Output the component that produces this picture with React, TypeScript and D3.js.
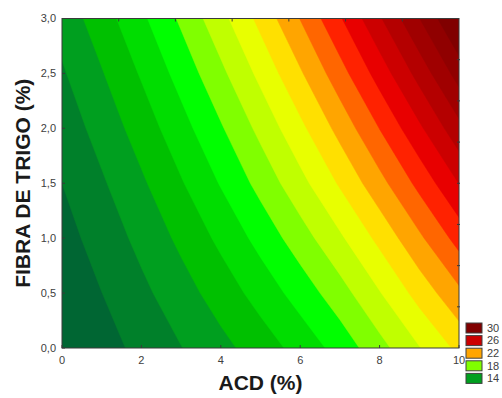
import React from "react";
import * as d3 from "d3";

// Grid of the response surface: x = ACD (%), y = FIBRA DE TRIGO (%)
const xValues = [0, 1, 2, 3, 4, 5, 6, 7, 8, 9, 10];
const yValues = [0, 0.5, 1, 1.5, 2, 2.5, 3];
const zAtY00 = [11.45, 12.1, 12.77, 13.47, 14.2, 14.98, 15.86, 16.88, 18.15, 19.45, 20.75];
const zAtY05 = [11.79, 12.49, 13.26, 14.08, 14.95, 15.89, 16.92, 18.08, 19.44, 20.88, 22.28];
const zAtY10 = [12.12, 12.91, 13.78, 14.72, 15.73, 16.83, 18.03, 19.33, 20.77, 22.31, 23.88];
const zAtY15 = [12.5, 13.37, 14.34, 15.41, 16.57, 17.82, 19.17, 20.62, 22.16, 23.79, 25.52];
const zAtY20 = [12.92, 13.88, 14.95, 16.12, 17.39, 18.77, 20.25, 21.83, 23.52, 25.31, 27.2];
const zAtY25 = [13.38, 14.43, 15.6, 16.87, 18.26, 19.76, 21.37, 23.09, 24.93, 26.87, 28.93];
const zAtY30 = [13.89, 15.03, 16.29, 17.67, 19.17, 20.79, 22.53, 24.39, 26.38, 28.48, 30.7];
const zRows = [zAtY00, zAtY05, zAtY10, zAtY15, zAtY20, zAtY25, zAtY30];

// Contour bands (centre value of each band) and their colours
const bandLevels = [12, 13, 14, 15, 16, 17, 18, 19, 20, 21, 22, 23, 24, 25, 26, 27, 28, 29, 30];
const bandColors = [
  "#006633", "#00802a", "#009f1f", "#00c000", "#00dd00", "#00ff00", "#80ff00",
  "#c0ff00", "#e8ff00", "#ffe000", "#ffa500", "#ff6600", "#ff2200", "#e80000",
  "#cc0000", "#b40000", "#a00000", "#900000", "#800000",
];

const legendLevels = [30, 26, 22, 18, 14];
const xTicks = [0, 2, 4, 6, 8, 10];
const xTickLabels = ["0", "2", "4", "6", "8", "10"];
const yTicks = [0, 0.5, 1, 1.5, 2, 2.5, 3];
const yTickLabels = ["0,0", "0,5", "1,0", "1,5", "2,0", "2,5", "3,0"];

const W = 502;
const H = 398;
const left = 62;
const right = 459;
const top = 18.5;
const bottom = 348;
const FONT = "Arial, 'Liberation Sans', sans-serif";

export default function App() {
  const xScale = d3.scaleLinear().domain([0, 10]).range([left, right]);
  const yScale = d3.scaleLinear().domain([0, 3]).range([bottom, top]);

  const nx = xValues.length;
  const ny = yValues.length;
  const gridX = d3.scaleLinear().domain([0.5, nx - 0.5]).range([xValues[0], xValues[nx - 1]]);
  const gridY = d3.scaleLinear().domain([0.5, ny - 0.5]).range([yValues[0], yValues[ny - 1]]);

  const values: number[] = [];
  zRows.forEach((row) => row.forEach((v) => values.push(v)));

  const thresholds = bandLevels.slice(1).map((v) => v - 0.5);
  const contours = d3.contours().size([nx, ny]).thresholds(thresholds)(values);

  const projection = d3.geoTransform({
    point: function (x: number, y: number) {
      (this as any).stream.point(xScale(gridX(x)), yScale(gridY(y)));
    },
  });
  const path = d3.geoPath(projection as any);

  const colorOf = (level: number) => bandColors[bandLevels.indexOf(level)];

  const topTicks = d3.scaleLinear().domain([0, 7]).range([left, right]);
  const rightTicks = d3.scaleLinear().domain([0, 8]).range([top, bottom]);

  const legX = 466;
  const legY0 = 323;
  const legStep = 12.6;

  return (
    <svg width={W} height={H} style={{ position: "absolute", left: 0, top: 0, background: "#fff" }}>
      <defs>
        <clipPath id="plotClip">
          <rect x={left} y={top} width={right - left} height={bottom - top} />
        </clipPath>
      </defs>
      <g clipPath="url(#plotClip)">
        <rect x={left} y={top} width={right - left} height={bottom - top} fill={bandColors[0]} />
        {contours.map((c, i) => (
          <path key={i} d={path(c as any) || ""} fill={bandColors[i + 1]} stroke={bandColors[i + 1]} strokeWidth={0.5} />
        ))}
      </g>
      <rect x={left} y={top} width={right - left} height={bottom - top} fill="none" stroke="#3a3a3a" strokeWidth={1} />
      {xTicks.map((t) => (
        <line key={"xt" + t} x1={xScale(t)} x2={xScale(t)} y1={bottom} y2={bottom - 3} stroke="#3a3a3a" />
      ))}
      {yTicks.map((t) => (
        <line key={"yt" + t} x1={left} x2={left + 3} y1={yScale(t)} y2={yScale(t)} stroke="#3a3a3a" />
      ))}
      {d3.range(1, 7).map((k) => (
        <line key={"tt" + k} x1={topTicks(k)} x2={topTicks(k)} y1={top} y2={top + 3} stroke="#3a3a3a" />
      ))}
      {d3.range(1, 8).map((k) => (
        <line key={"rt" + k} x1={right - 2} x2={right + 1} y1={rightTicks(k)} y2={rightTicks(k)} stroke="#3a3a3a" />
      ))}
      {xTicks.map((t, i) => (
        <text key={"xl" + t} x={xScale(t)} y={364} textAnchor="middle" fontFamily={FONT} fontSize={11} fill="#404040">
          {xTickLabels[i]}
        </text>
      ))}
      {yTicks.map((t, i) => (
        <text key={"yl" + t} x={56} y={yScale(t)} dy="0.35em" textAnchor="end" fontFamily={FONT} fontSize={11} fill="#404040">
          {yTickLabels[i]}
        </text>
      ))}
      <text x={(left + right) / 2} y={390} textAnchor="middle" fontFamily={FONT} fontSize={21} fontWeight="bold" fill="#1a1a1a">
        ACD (%)
      </text>
      <text
        transform={`translate(30, ${(top + bottom) / 2}) rotate(-90)`}
        textAnchor="middle"
        fontFamily={FONT}
        fontSize={21}
        fontWeight="bold"
        fill="#1a1a1a"
      >
        FIBRA DE TRIGO (%)
      </text>
      {legendLevels.map((lv, i) => (
        <g key={"lg" + lv}>
          <rect x={legX} y={legY0 + i * legStep} width={16} height={10} fill={colorOf(lv)} stroke="#404040" strokeWidth={1} />
          <text x={487} y={legY0 + i * legStep + 5} dy="0.35em" fontFamily={FONT} fontSize={11} fill="#404040">
            {lv}
          </text>
        </g>
      ))}
    </svg>
  );
}
